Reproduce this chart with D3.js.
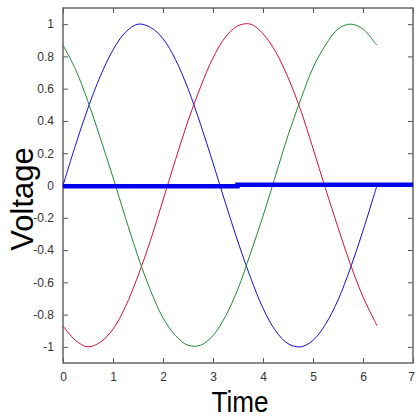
<!DOCTYPE html>
<html>
<head>
<meta charset="utf-8">
<script src="https://cdn.jsdelivr.net/npm/d3@7"></script>
<style>
  body { margin: 0; background: #fff; }
  svg { display: block; }
</style>
</head>
<body>
<div id="chart"></div>
<script>
// sample times
var time = [0, 0.25, 0.5, 0.75, 1, 1.25, 1.5, 1.75, 2, 2.25, 2.5, 2.75, 3, 3.25,
            3.5, 3.75, 4, 4.25, 4.5, 4.75, 5, 5.25, 5.5, 5.75, 6, 6.25, 6.28];

var phaseA = [0, 0.25, 0.48, 0.68, 0.84, 0.95, 1.0, 0.98, 0.91, 0.78, 0.6, 0.38, 0.14, -0.11,
              -0.35, -0.57, -0.76, -0.9, -0.98, -1.0, -0.96, -0.86, -0.71, -0.51, -0.28, -0.03, 0];
var phaseB = [-0.87, -0.96, -1.0, -0.97, -0.89, -0.75, -0.56, -0.34, -0.09, 0.16, 0.4, 0.61, 0.79, 0.92,
              0.99, 1.0, 0.94, 0.83, 0.67, 0.47, 0.23, -0.02, -0.26, -0.49, -0.69, -0.85, -0.87];
var phaseC = [0.87, 0.72, 0.52, 0.29, 0.05, -0.2, -0.44, -0.65, -0.82, -0.93, -0.99, -0.99, -0.93, -0.81,
              -0.64, -0.42, -0.19, 0.06, 0.31, 0.53, 0.73, 0.87, 0.97, 1.0, 0.97, 0.88, 0.87];

// the thick "sum" line, nearly zero with a tiny step
var sumTime = [0, 3.49, 3.49, 7];
var sumValue = [-0.005, -0.005, 0.004, 0.004];

var xTicks = [0, 1, 2, 3, 4, 5, 6, 7];
var yTicks = [-1, -0.8, -0.6, -0.4, -0.2, 0, 0.2, 0.4, 0.6, 0.8, 1];

var W = 416, H = 420;
var margin = {top: 8, right: 3, bottom: 57, left: 63};

var svg = d3.select('#chart').append('svg')
    .attr('width', W)
    .attr('height', H);

var x = d3.scaleLinear().domain([0, 7]).range([margin.left, W - margin.right]);
var y = d3.scaleLinear().domain([-1.1, 1.1]).range([H - margin.bottom, margin.top]);

var tickFont = '"Liberation Sans Narrow", "Arial Narrow", "Liberation Sans", Arial, sans-serif';

/* axes: ticks point inward, like MATLAB */
function styleAxis(g, showText) {
    g.select('.domain').remove();
    g.selectAll('line').attr('stroke', '#555');
    g.selectAll('text')
        .attr('fill', '#333')
        .style('font-family', tickFont)
        .style('font-size', '12px');
    if (!showText) g.selectAll('text').remove();
}

var fmt = function(d) { return String(+d.toFixed(1)); };

svg.append('g')
    .attr('transform', 'translate(0,' + y(-1.1) + ')')
    .call(d3.axisBottom(x).tickValues(xTicks).tickFormat(fmt)
        .tickSizeInner(-5).tickSizeOuter(0).tickPadding(9))
    .call(styleAxis, true);

// last label sits on the window edge, nudge it in a little
svg.selectAll('g.tick text').filter(function(d) { return d === 7; })
    .attr('dx', -2);

svg.append('g')
    .attr('transform', 'translate(0,' + y(1.1) + ')')
    .call(d3.axisTop(x).tickValues(xTicks).tickSizeInner(-5).tickSizeOuter(0))
    .call(styleAxis, false);

svg.append('g')
    .attr('transform', 'translate(' + x(0) + ',0)')
    .call(d3.axisLeft(y).tickValues(yTicks).tickFormat(fmt)
        .tickSizeInner(-5).tickSizeOuter(0).tickPadding(9))
    .call(styleAxis, true);

svg.append('g')
    .attr('transform', 'translate(' + x(7) + ',0)')
    .call(d3.axisRight(y).tickValues(yTicks).tickSizeInner(-5).tickSizeOuter(0))
    .call(styleAxis, false);

// box
svg.append('rect')
    .attr('x', x(0)).attr('y', y(1.1))
    .attr('width', x(7) - x(0)).attr('height', y(-1.1) - y(1.1))
    .attr('fill', 'none')
    .attr('stroke', '#666')
    .attr('stroke-width', 1.5);

var line = d3.line()
    .x(function(d) { return x(d[0]); })
    .y(function(d) { return y(d[1]); })
    .curve(d3.curveCatmullRom);

var series = [
    {values: phaseA, color: '#1010d0'},
    {values: phaseB, color: '#d81030'},
    {values: phaseC, color: '#208a30'}
];

series.forEach(function(s) {
    svg.append('path')
        .datum(time.map(function(t, i) { return [t, s.values[i]]; }))
        .attr('d', line)
        .attr('fill', 'none')
        .attr('stroke', s.color)
        .attr('stroke-width', 1);
});

svg.append('path')
    .datum(sumTime.map(function(t, i) { return [t, sumValue[i]]; }))
    .attr('d', d3.line().x(function(d) { return x(d[0]); }).y(function(d) { return y(d[1]); }))
    .attr('fill', 'none')
    .attr('stroke', '#0000ee')
    .attr('stroke-width', 4.5);

// axis titles
svg.append('text')
    .attr('x', (x(0) + x(7)) / 2 + 2)
    .attr('y', 412)
    .attr('text-anchor', 'middle')
    .attr('textLength', 57)
    .attr('lengthAdjust', 'spacingAndGlyphs')
    .style('font-family', '"Liberation Sans", Arial, sans-serif')
    .style('font-size', '29px')
    .text('Time');

svg.append('text')
    .attr('transform', 'translate(33,' + 199 + ') rotate(-90)')
    .attr('text-anchor', 'middle')
    .style('font-family', '"Liberation Sans", Arial, sans-serif')
    .style('font-size', '31px')
    .text('Voltage');
</script>
</body>
</html>
